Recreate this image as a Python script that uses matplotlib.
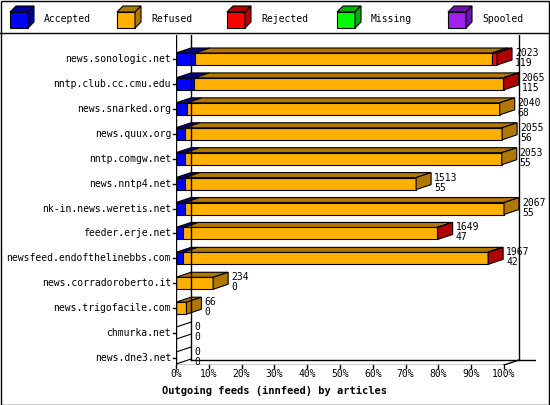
import matplotlib
matplotlib.use("Agg")
import matplotlib.pyplot as plt
from matplotlib.patches import Polygon, Rectangle

feeds = ["news.sonologic.net", "nntp.club.cc.cmu.edu", "news.snarked.org", "news.quux.org",
         "nntp.comgw.net", "news.nntp4.net", "nk-in.news.weretis.net", "feeder.erje.net",
         "newsfeed.endofthelinebbs.com", "news.corradoroberto.it", "news.trigofacile.com",
         "chmurka.net", "news.dne3.net"]
offered = [2023, 2065, 2040, 2055, 2053, 1513, 2067, 1649, 1967, 234, 66, 0, 0]
accepted = [119, 115, 68, 56, 55, 55, 55, 47, 42, 0, 0, 0, 0]
rejected = [32, 4, 0, 0, 0, 0, 0, 3, 3, 0, 0, 0, 0]
legend_names = ["Accepted", "Refused", "Rejected", "Missing", "Spooled"]
front_cols = ["#0000ff", "#ffb000", "#ff0000", "#00ff00", "#a020f0"]
dark_cols = ["#0000a0", "#b07800", "#b00000", "#00b000", "#7010b0"]

W, H = 550, 405
fig = plt.figure(figsize=(W/100, H/100), dpi=100)
mono = "DejaVu Sans Mono"
fs = 7

fig.patches.append(Rectangle((0.5/W, 0.5/H), (W-1.5)/W, (H-1.5)/H, transform=fig.transFigure,
                             fill=False, ec="black", lw=1))
fig.add_artist(plt.Line2D([0, 1], [1-33/H, 1-33/H], color="black", lw=1, transform=fig.transFigure))
lx = [10, 117, 227, 337, 448]
for x0, name, fc, dc in zip(lx, legend_names, front_cols, dark_cols):
    px = lambda x, y: (x/W, 1-y/H)
    fig.patches.append(Polygon([px(x0, 12), px(x0+18, 12), px(x0+18, 28), px(x0, 28)],
                               closed=True, fc=fc, ec="black", lw=0.8, transform=fig.transFigure))
    fig.patches.append(Polygon([px(x0, 12), px(x0+6, 6), px(x0+24, 6), px(x0+18, 12)],
                               closed=True, fc=dc, ec="black", lw=0.8, transform=fig.transFigure))
    fig.patches.append(Polygon([px(x0+18, 12), px(x0+24, 6), px(x0+24, 22), px(x0+18, 28)],
                               closed=True, fc=dc, ec="black", lw=0.8, transform=fig.transFigure))
    fig.text((x0+34)/W, 1-19/H, name, fontsize=fs, family=mono, va="center", ha="left")

scale = max(offered)
x0p, x100p = 176, 504
xmaxp = 536
ax = fig.add_axes([x0p/W, 1-365/H, (xmaxp-x0p)/W, (365-35)/H])
ppx = scale/(x100p-x0p)
ax.set_xlim(0, (xmaxp-x0p)*ppx)
row = 24.92
ax.set_ylim((365-59)/row, (35-59)/row)
ax.axis("off")
dx = 15*ppx
dy = 5/row
h = 12/row

ytop = (35-59)/row
ybot = (365-59)/row
ax.plot([dx, dx], [ytop, ybot-dy], color="black", lw=1)
ax.plot([dx, (xmaxp-x0p)*ppx], [ybot-dy, ybot-dy], color="black", lw=1)
ax.plot([(519-x0p)*ppx]*2, [ytop, ybot-dy], color="black", lw=1)
ax.plot([0, 0], [ytop, ybot], color="black", lw=1)
ax.plot([0, scale], [ybot, ybot], color="black", lw=1)
ax.plot([scale, scale+dx], [ybot, ybot-dy], color="black", lw=1)
for k in range(11):
    xv = scale*k/10
    ax.plot([xv, xv], [ybot, ybot+3/row], color="black", lw=1, clip_on=False)
    ax.text(xv, ybot+4/row, f"{k*10}%", fontsize=fs, family=mono, ha="center", va="top")
for i in range(len(feeds)):
    ax.plot([-3*ppx, 0], [i, i], color="black", lw=1, clip_on=False)
    ax.text(-5*ppx, i, feeds[i], fontsize=fs, family=mono, ha="right", va="center")

for i in range(len(feeds)):
    segs = [(accepted[i], 0), (offered[i]-accepted[i]-rejected[i], 1), (rejected[i], 2)]
    yt, yb = i-h/2, i+h/2
    start = 0
    last = None
    for val, c in segs:
        if val <= 0:
            continue
        end = start+val
        ax.add_patch(Polygon([(start, yb), (end, yb), (end, yt), (start, yt)], closed=True,
                             fc=front_cols[c], ec="black", lw=0.8))
        ax.add_patch(Polygon([(start, yt), (end, yt), (end+dx, yt-dy), (start+dx, yt-dy)], closed=True,
                             fc=dark_cols[c], ec="black", lw=0.8))
        start = end
        last = c
    if last is not None:
        ax.add_patch(Polygon([(start, yt), (start+dx, yt-dy), (start+dx, yb-dy), (start, yb)], closed=True,
                             fc=dark_cols[last], ec="black", lw=0.8))
    else:
        ax.plot([0, dx], [yt, yt-dy], color="black", lw=0.8)
        ax.plot([0, dx], [yb, yb-dy], color="black", lw=0.8)
    tx = offered[i]+dx+3*ppx
    ax.text(tx, i-6/row, str(offered[i]), fontsize=fs, family=mono, ha="left", va="center")
    ax.text(tx, i+4/row, str(accepted[i]), fontsize=fs, family=mono, ha="left", va="center")

fig.text(274/W, 1-391/H, "Outgoing feeds (innfeed) by articles", fontsize=7.5, family=mono,
         weight="bold", ha="center", va="center")
fig.savefig("out.png", dpi=100)
